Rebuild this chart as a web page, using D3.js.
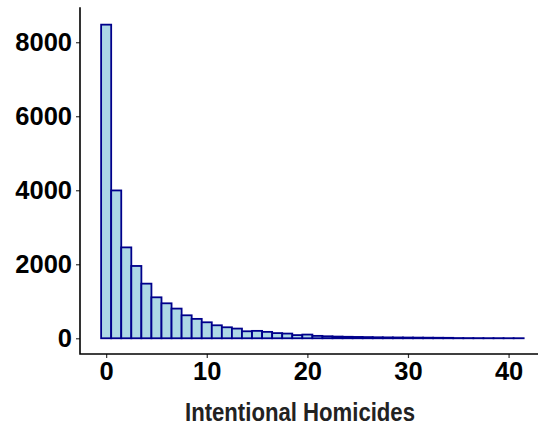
<!DOCTYPE html>
<html>
<head>
<meta charset="utf-8">
<script src="https://cdn.jsdelivr.net/npm/d3@7"></script>
<style>
  body { margin: 0; background: #fff; }
  text { font-family: "Liberation Sans", Arial, sans-serif; font-weight: bold; }
</style>
</head>
<body>
<div id="chart"></div>
<script>
// histogram of intentional homicides, one bin per integer value
let binStarts = d3.range(0, 42);
let counts = [8475, 3995, 2456, 1954, 1476, 1107, 945, 802, 621, 524,
              432, 351, 297, 262, 189, 200, 173, 140, 127, 86,
              100, 65, 54, 46, 40, 36, 32, 27, 24, 22,
              20, 18, 16, 14, 12, 6, 5, 4, 3, 3,
              2, 2];
let xTicks = [0, 10, 20, 30, 40];
let yTicks = [0, 2000, 4000, 6000, 8000];
let xTitle = "Intentional Homicides";

function graph(id) {
    let width = 538, height = 428;
    let data = binStarts.map((b, i) => ({ x0: b - 0.5, x1: b + 0.5, n: counts[i] }));

    let x = d3.scaleLinear().domain([-2.6, 43.6]).range([80, 544.8]);
    let y = d3.scaleLinear().domain([-425, 8925]).range([354, 8]);

    let svg = d3.select(id).append("svg")
        .attr("width", width)
        .attr("height", height);

    svg.selectAll("rect.bar")
        .data(data)
        .enter()
        .append("rect")
        .attr("class", "bar")
        .attr("x", d => x(d.x0))
        .attr("width", d => x(d.x1) - x(d.x0))
        .attr("y", d => y(d.n))
        .attr("height", d => y(0) - y(d.n))
        .style("fill", "#ADD8E6")
        .style("stroke", "#00008B")
        .style("stroke-width", 1.8);

    // x axis
    let xAxis = svg.append("g")
        .attr("transform", `translate(0,${y.range()[0]})`)
        .call(d3.axisBottom(x).tickValues(xTicks).tickFormat(d3.format("d"))
            .tickSizeOuter(0).tickSize(4).tickPadding(4));
    xAxis.select(".domain").remove();
    xAxis.selectAll(".tick line").attr("stroke", "#333").attr("stroke-width", 1.2);
    xAxis.selectAll(".tick text").attr("fill", "#000").style("font-size", "25.5px");

    // y axis
    let yAxis = svg.append("g")
        .attr("transform", `translate(${x.range()[0]},0)`)
        .call(d3.axisLeft(y).tickValues(yTicks).tickFormat(d3.format("d"))
            .tickSizeOuter(0).tickSize(4).tickPadding(4));
    yAxis.select(".domain").remove();
    yAxis.selectAll(".tick line").attr("stroke", "#333").attr("stroke-width", 1.2);
    yAxis.selectAll(".tick text").attr("fill", "#000").style("font-size", "25.5px");

    // axis lines meeting at the corner
    let x0 = x.range()[0], yb = y.range()[0];
    svg.append("path")
        .attr("d", `M${x0},${y.range()[1]}V${yb}H${width}`)
        .attr("fill", "none")
        .attr("stroke", "#000")
        .attr("stroke-width", 1.6)
        .attr("stroke-linecap", "square");

    // condensed bold title: squeeze to the reference width
    svg.append("text")
        .attr("x", 300)
        .attr("y", 421)
        .attr("text-anchor", "middle")
        .attr("textLength", 230)
        .attr("lengthAdjust", "spacingAndGlyphs")
        .style("font-size", "25px")
        .style("fill", "#222")
        .text(xTitle);
}

graph("#chart");
</script>
</body>
</html>
